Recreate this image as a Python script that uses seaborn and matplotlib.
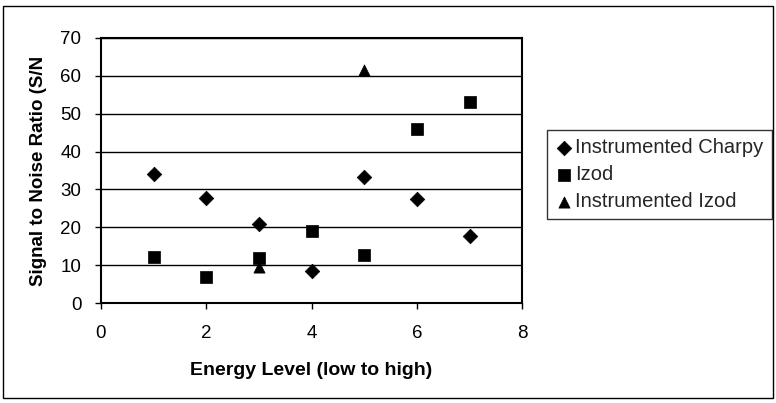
import matplotlib
matplotlib.use("Agg")
import matplotlib.pyplot as plt
import seaborn as sns
import pandas as pd
from matplotlib.patches import Rectangle

# Data
charpy_x = [1, 2, 3, 4, 5, 6, 7]
charpy_y = [34.0, 27.8, 20.9, 8.5, 33.3, 27.5, 17.7]
izod_x = [1, 2, 3, 4, 5, 6, 7]
izod_y = [12.1, 6.9, 11.8, 19.0, 12.8, 46.0, 53.1]
inst_izod_x = [3, 5]
inst_izod_y = [9.4, 61.4]
series_names = ["Instrumented Charpy", "Izod", "Instrumented Izod"]
x_ticks = [0, 2, 4, 6, 8]
y_ticks = [0, 10, 20, 30, 40, 50, 60, 70]

df = pd.concat([
    pd.DataFrame({"x": charpy_x, "y": charpy_y, "series": series_names[0]}),
    pd.DataFrame({"x": izod_x, "y": izod_y, "series": series_names[1]}),
    pd.DataFrame({"x": inst_izod_x, "y": inst_izod_y, "series": series_names[2]}),
], ignore_index=True)

sns.set_theme(style="white")
plt.rcParams['font.family'] = ['Liberation Sans', 'DejaVu Sans']

fig = plt.figure(figsize=(7.76, 4.03), dpi=100)
ax = fig.add_axes([0.130, 0.248, 0.543, 0.658])

markers = {series_names[0]: "D", series_names[1]: "s", series_names[2]: "^"}
sizes = {series_names[0]: 55, series_names[1]: 85, series_names[2]: 65}
for name in series_names:
    sub = df[df["series"] == name]
    sns.scatterplot(data=sub, x="x", y="y", marker=markers[name], s=sizes[name],
                    color="black", edgecolor="black", linewidth=0.5, ax=ax,
                    label=name, zorder=3)

ax.set_xlim(0, 8)
ax.set_ylim(0, 70)
ax.set_xticks(x_ticks)
ax.set_yticks(y_ticks)
ax.yaxis.grid(True, color="black", linewidth=1.0)
ax.xaxis.grid(False)
ax.set_axisbelow(True)
for sp in ax.spines.values():
    sp.set_color("black")
    sp.set_linewidth(1.5)
ax.tick_params(axis="both", which="both", direction="out", length=4, width=1,
               color="black", labelsize=13.5, labelcolor="black",
               bottom=True, left=True)
ax.tick_params(axis="x", pad=12)
ax.tick_params(axis="y", pad=10)
ax.set_xlabel("Energy Level (low to high)", fontsize=14, fontweight="bold",
              labelpad=14, color="black")
ax.set_ylabel("Signal to Noise Ratio (S/N", fontsize=13.5, fontweight="bold",
              labelpad=10, color="black")

leg = ax.legend(loc="upper left", bbox_to_anchor=(547 / 776, 1 - 130 / 403),
                bbox_transform=fig.transFigure, frameon=True, fancybox=False,
                fontsize=14.5, handletextpad=0.1, handlelength=0.9,
                borderpad=0.4, labelspacing=0.4, borderaxespad=0)
leg.get_frame().set_edgecolor("black")
leg.get_frame().set_linewidth(1.0)

fig.patches.append(Rectangle((3 / 776, 5 / 403), 770 / 776, 392 / 403,
                             transform=fig.transFigure, fill=False,
                             edgecolor="black", linewidth=1.0))

fig.savefig("out.png", dpi=100)
